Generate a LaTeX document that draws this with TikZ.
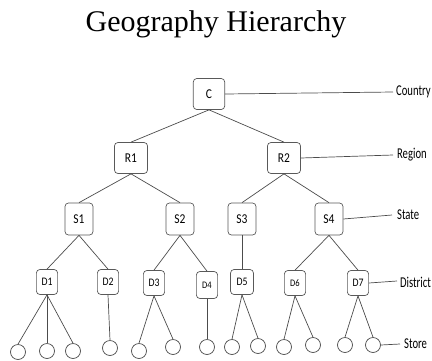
\documentclass[tikz,border=0pt]{standalone}
\usepackage{fontspec}
\setmainfont{Liberation Serif}
\newfontfamily\calibri{Carlito}

\begin{document}
\begin{tikzpicture}[x=1pt, y=-1pt,
    every node/.style={font=\calibri},
    box/.style={draw=black!65, rounded corners=3.5pt, line width=0.7pt, inner sep=0pt, font=\calibri\fontsize{13.5}{13.5}\selectfont, xscale=0.85},
    bigbox/.style={box, minimum width=39pt, minimum height=31pt},
    midbox/.style={box, minimum width=33pt, minimum height=32pt},
    smallbox/.style={box, minimum width=25pt, minimum height=25pt, font=\calibri\fontsize{11.5}{11.5}\selectfont},
    store/.style={draw=black!70, circle, minimum size=15pt, inner sep=0pt, line width=0.7pt},
    edge/.style={draw=black!70, line width=0.7pt},
    level/.style={anchor=west, inner sep=0pt, font=\calibri\fontsize{15}{15}\selectfont, xscale=0.71}]
      \useasboundingbox (0,0) rectangle (432,360);
      \node[font=\fontsize{30}{30}\selectfont] (title) at (216,24) {Geography Hierarchy};
      % tree boxes
      \node[bigbox, minimum width=37pt] (c) at (209,94) {C};
      \node[bigbox] (r1) at (131,158) {R1};
      \node[bigbox] (r2) at (284,158) {R2};
      \node[midbox] (s1) at (79,219) {S1};
      \node[midbox] (s2) at (180,219) {S2};
      \node[midbox] (s3) at (242,219) {S3};
      \node[midbox] (s4) at (329,219) {S4};
      \node[smallbox] (d1) at (47,282) {D1};
      \node[smallbox] (d2) at (108,282) {D2};
      \node[smallbox] (d3) at (154,283) {D3};
      \node[smallbox, minimum height=27pt, font=\calibri\fontsize{10}{10}\selectfont] (d4) at (207,285) {D4};
      \node[smallbox, minimum width=27pt] (d5) at (242,282) {D5};
      \node[smallbox, font=\calibri\fontsize{10}{10}\selectfont] (d6) at (295,283) {D6};
      \node[smallbox] (d7) at (358,283) {D7};
      % stores
      \node[store] (t1) at (18,352) {};
      \node[store] (t2) at (47,351) {};
      \node[store] (t3) at (73,351) {};
      \node[store] (t4) at (110,348) {};
      \node[store] (t5) at (139,351) {};
      \node[store] (t6) at (173,347) {};
      \node[store] (t7) at (207,347) {};
      \node[store] (t8) at (232,347) {};
      \node[store] (t9) at (258,346) {};
      \node[store] (t10) at (284,347) {};
      \node[store] (t11) at (313,345) {};
      \node[store] (t12) at (345,345) {};
      \node[store] (t13) at (373,345) {};
      % connectors
      \draw[edge] (c.south) -- (r1.north);
      \draw[edge] (c.south) -- (r2.north);
      \draw[edge] (r1.south) -- (s1.north);
      \draw[edge] (r1.south) -- (s2.north);
      \draw[edge] (r2.south) -- (s3.north);
      \draw[edge] (r2.south) -- (s4.north);
      \draw[edge] (s1.south) -- (d1.north);
      \draw[edge] (s1.south) -- (d2.north);
      \draw[edge] (s2.south) -- (d3.north);
      \draw[edge] (s2.south) -- (d4.north);
      \draw[edge] (s3.south) -- (d5.north);
      \draw[edge] (s4.south) -- (d6.north);
      \draw[edge] (s4.south) -- (d7.north);
      \foreach \d/\t in {d1/t1, d1/t2, d1/t3, d2/t4, d3/t5, d3/t6, d4/t7, d5/t8, d5/t9, d6/t10, d6/t11, d7/t12, d7/t13}
        \draw[edge] (\d.south) -- (\t.north);
      % level labels
      \coordinate (lc) at (393,92);
      \coordinate (lr) at (393,155);
      \coordinate (ls) at (392,215);
      \coordinate (ld) at (397,281);
      \coordinate (lt) at (400,344);
      \draw[edge] (c.east) -- (lc);
      \draw[edge] (r2.east) -- (lr);
      \draw[edge] (s4.east) -- (ls);
      \draw[edge] (d7.east) -- (ld);
      \draw[edge] (t13.east) -- (lt);
      \node[level] (country) at (396,92) {Country};
      \node[level] (region) at (397,155) {Region};
      \node[level] (state) at (397,215) {State};
      \node[level] (district) at (400,282) {District};
      \node[level] (store) at (404,344) {Store};
\end{tikzpicture}
\end{document}
